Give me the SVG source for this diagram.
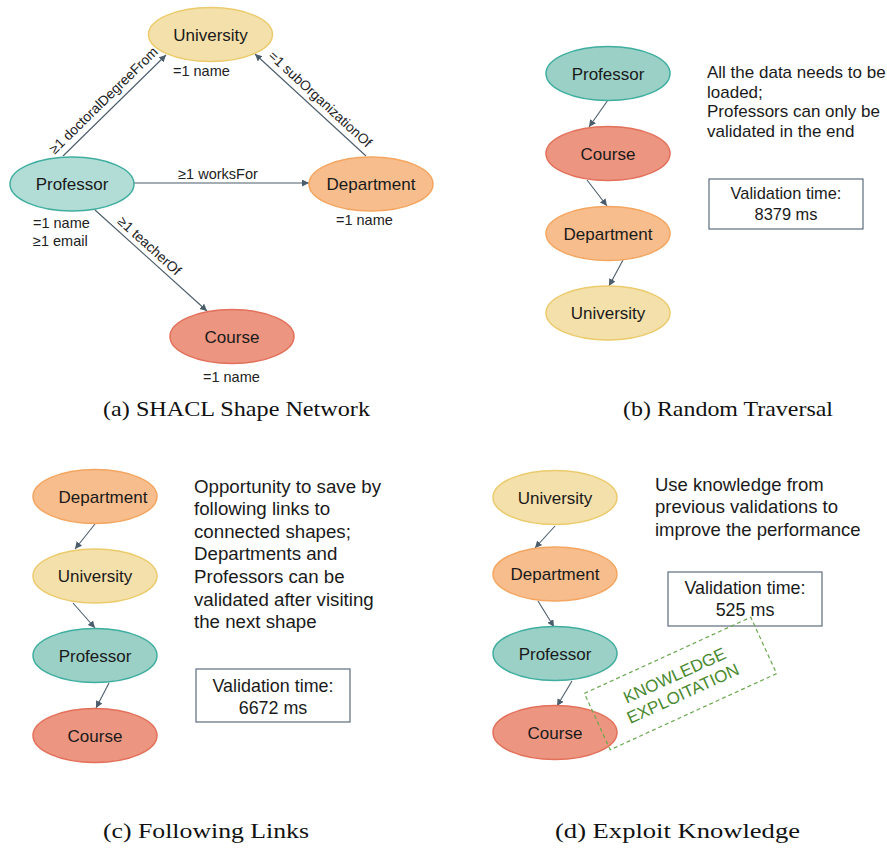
<svg xmlns="http://www.w3.org/2000/svg" width="887" height="848" viewBox="0 0 887 848">
<defs>
<marker id="ah" markerUnits="userSpaceOnUse" markerWidth="8" markerHeight="8" refX="7" refY="3.5" orient="auto">
<path d="M0,0 L7,3.5 L0,7 z" fill="#4b5c6b"/>
</marker>
<style>
.n{font-family:"Liberation Sans",Arial,sans-serif;font-size:17px;fill:#1a1a1a;text-anchor:middle}
.l{font-family:"Liberation Sans",Arial,sans-serif;font-size:14.5px;fill:#222}
.r{font-family:"Liberation Sans",Arial,sans-serif;font-size:13.8px;fill:#222;text-anchor:middle}
.tb{font-family:"Liberation Sans",Arial,sans-serif;font-size:17px;fill:#1a1a1a}
.tc{font-family:"Liberation Sans",Arial,sans-serif;font-size:18.7px;fill:#1a1a1a}
.td{font-family:"Liberation Sans",Arial,sans-serif;font-size:18.5px;fill:#1a1a1a}
.bb{font-family:"Liberation Sans",Arial,sans-serif;font-size:16.4px;fill:#1a1a1a;text-anchor:middle}
.bt{font-family:"Liberation Sans",Arial,sans-serif;font-size:17.9px;fill:#1a1a1a;text-anchor:middle}
.cap{font-family:"Liberation Serif","Times New Roman",serif;font-size:22px;fill:#111;text-anchor:middle}
.e{stroke:#4b5c6b;stroke-width:1.1;fill:none;marker-end:url(#ah)}
.uni{fill:#f4e0aa;stroke:#ebcb6c;stroke-width:1.5}
.pro{fill:#9bd0c7;stroke:#3fae9f;stroke-width:1.5}
.proa{fill:#b2ddd6;stroke:#3fae9f;stroke-width:1.5}
.cou{fill:#ec9580;stroke:#e3705a;stroke-width:1.5}
.dep{fill:#f7bd8d;stroke:#f4a660;stroke-width:1.5}
.box{fill:#fff;stroke:#5d6d7e;stroke-width:1.2}
</style>
</defs>
<rect width="887" height="848" fill="#fff"/>

<!-- Panel (a) -->
<g id="a-connectors">
<line class="e" x1="63" y1="156" x2="166" y2="55"/>
<line class="e" x1="366" y1="156" x2="255" y2="54"/>
<line class="e" x1="134" y1="183" x2="309" y2="183"/>
<line class="e" x1="95" y1="210" x2="207" y2="311"/>
<text class="r" transform="translate(111,108) rotate(-44.4)" x="0" y="-6">≥1 doctoralDegreeFrom</text>
<text class="r" transform="translate(313,107) rotate(42.6)" x="0" y="-6">=1 subOrganizationOf</text>
<text class="l" x="218" y="179" text-anchor="middle">≥1 worksFor</text>
<text class="r" transform="translate(143,253) rotate(42.1)" x="0" y="-5">≥1 teacherOf</text>
</g>
<g id="a-university">
<ellipse class="uni" cx="210.5" cy="34.5" rx="62" ry="27"/>
<text class="n" x="210.5" y="41">University</text>
<text class="l" x="173" y="76">=1 name</text>
</g>
<g id="a-professor">
<ellipse class="proa" cx="72" cy="184" rx="62" ry="27"/>
<text class="n" x="72" y="190">Professor</text>
<text class="l" x="33" y="228">=1 name</text>
<text class="l" x="33" y="246">≥1 email</text>
</g>
<g id="a-department">
<ellipse class="dep" cx="371" cy="184" rx="62" ry="27"/>
<text class="n" x="371" y="190">Department</text>
<text class="l" x="336" y="225">=1 name</text>
</g>
<g id="a-course">
<ellipse class="cou" cx="232" cy="336.5" rx="62" ry="27"/>
<text class="n" x="232" y="342.5">Course</text>
<text class="l" x="203" y="382">=1 name</text>
</g>
<text class="cap" x="236.5" y="416" textLength="267" lengthAdjust="spacingAndGlyphs">(a) SHACL Shape Network</text>

<!-- Panel (b) -->
<g id="b-connectors">
<line class="e" x1="608" y1="100" x2="589" y2="127"/>
<line class="e" x1="587" y1="180" x2="607" y2="206"/>
<line class="e" x1="623" y1="260" x2="609" y2="286"/>
</g>
<g id="b-professor"><ellipse class="pro" cx="608" cy="73.5" rx="62" ry="27"/><text class="n" x="608" y="79.5">Professor</text></g>
<g id="b-course"><ellipse class="cou" cx="608" cy="153.5" rx="62" ry="27"/><text class="n" x="608" y="159.5">Course</text></g>
<g id="b-department"><ellipse class="dep" cx="608" cy="233.5" rx="62" ry="27"/><text class="n" x="608" y="239.5">Department</text></g>
<g id="b-university"><ellipse class="uni" cx="608" cy="313" rx="62" ry="27"/><text class="n" x="608" y="319">University</text></g>
<g id="b-note">
<text class="tb" x="707" y="78">All the data needs to be</text>
<text class="tb" x="707" y="97.5">loaded;</text>
<text class="tb" x="707" y="117">Professors can only be</text>
<text class="tb" x="707" y="136.5">validated in the end</text>
</g>
<g id="b-time">
<rect class="box" x="709" y="179" width="154" height="50"/>
<text class="bb" x="786" y="199">Validation time:</text>
<text class="bb" x="786" y="219.5">8379 ms</text>
</g>
<text class="cap" x="728" y="416" textLength="210" lengthAdjust="spacingAndGlyphs">(b) Random Traversal</text>

<!-- Panel (c) -->
<g id="c-connectors">
<line class="e" x1="95" y1="524" x2="75" y2="549"/>
<line class="e" x1="73" y1="603" x2="95" y2="628"/>
<line class="e" x1="109" y1="683" x2="96" y2="708"/>
</g>
<g id="c-department"><ellipse class="dep" cx="95" cy="496.5" rx="62" ry="27"/><text class="n" x="103" y="502.5">Department</text></g>
<g id="c-university"><ellipse class="uni" cx="95" cy="576" rx="62" ry="27"/><text class="n" x="95" y="582">University</text></g>
<g id="c-professor"><ellipse class="pro" cx="95" cy="655.5" rx="62" ry="27"/><text class="n" x="95" y="661.5">Professor</text></g>
<g id="c-course"><ellipse class="cou" cx="95" cy="735.5" rx="62" ry="27"/><text class="n" x="95" y="741.5">Course</text></g>
<g id="c-note">
<text class="tc" x="194" y="493">Opportunity to save by</text>
<text class="tc" x="194" y="515">following links to</text>
<text class="tc" x="194" y="537.5">connected shapes;</text>
<text class="tc" x="194" y="560">Departments and</text>
<text class="tc" x="194" y="583">Professors can be</text>
<text class="tc" x="194" y="605.5">validated after visiting</text>
<text class="tc" x="194" y="628">the next shape</text>
</g>
<g id="c-time">
<rect class="box" x="196" y="669" width="154" height="53"/>
<text class="bt" x="273" y="692">Validation time:</text>
<text class="bt" x="273" y="714">6672 ms</text>
</g>
<text class="cap" x="206" y="838" textLength="206" lengthAdjust="spacingAndGlyphs">(c) Following Links</text>

<!-- Panel (d) -->
<g id="d-connectors">
<line class="e" x1="555" y1="526" x2="535" y2="548"/>
<line class="e" x1="538" y1="601" x2="554" y2="627"/>
<line class="e" x1="572" y1="681" x2="557" y2="706"/>
</g>
<g id="d-university"><ellipse class="uni" cx="555" cy="497.5" rx="62" ry="27"/><text class="n" x="555" y="503.5">University</text></g>
<g id="d-department"><ellipse class="dep" cx="555" cy="574" rx="62" ry="27"/><text class="n" x="555" y="580">Department</text></g>
<g id="d-professor"><ellipse class="pro" cx="555" cy="653.5" rx="62" ry="27"/><text class="n" x="555" y="659.5">Professor</text></g>
<g id="d-course"><ellipse class="cou" cx="555" cy="732.5" rx="62" ry="27"/><text class="n" x="555" y="738.5">Course</text></g>
<g id="d-note">
<text class="td" x="655" y="490.5">Use knowledge from</text>
<text class="td" x="655" y="513">previous validations to</text>
<text class="td" x="655" y="535.5">improve the performance</text>
</g>
<g id="d-time">
<rect class="box" x="668" y="572" width="154" height="54"/>
<text class="bt" x="745" y="594">Validation time:</text>
<text class="bt" x="745" y="616">525 ms</text>
</g>
<g id="d-knowledge" transform="translate(680.5,683.5) rotate(-24.6)">
<rect x="-91.5" y="-31" width="183" height="62" fill="none" stroke="#6aa84f" stroke-width="1.2" stroke-dasharray="4,3"/>
<text x="-2" y="-4" text-anchor="middle" font-family="'Liberation Sans',Arial,sans-serif" font-size="17" fill="#4b8a2f">KNOWLEDGE</text>
<text x="-2" y="16" text-anchor="middle" font-family="'Liberation Sans',Arial,sans-serif" font-size="17" fill="#4b8a2f">EXPLOITATION</text>
</g>
<text class="cap" x="677.5" y="838" textLength="245" lengthAdjust="spacingAndGlyphs">(d) Exploit Knowledge</text>
</svg>
